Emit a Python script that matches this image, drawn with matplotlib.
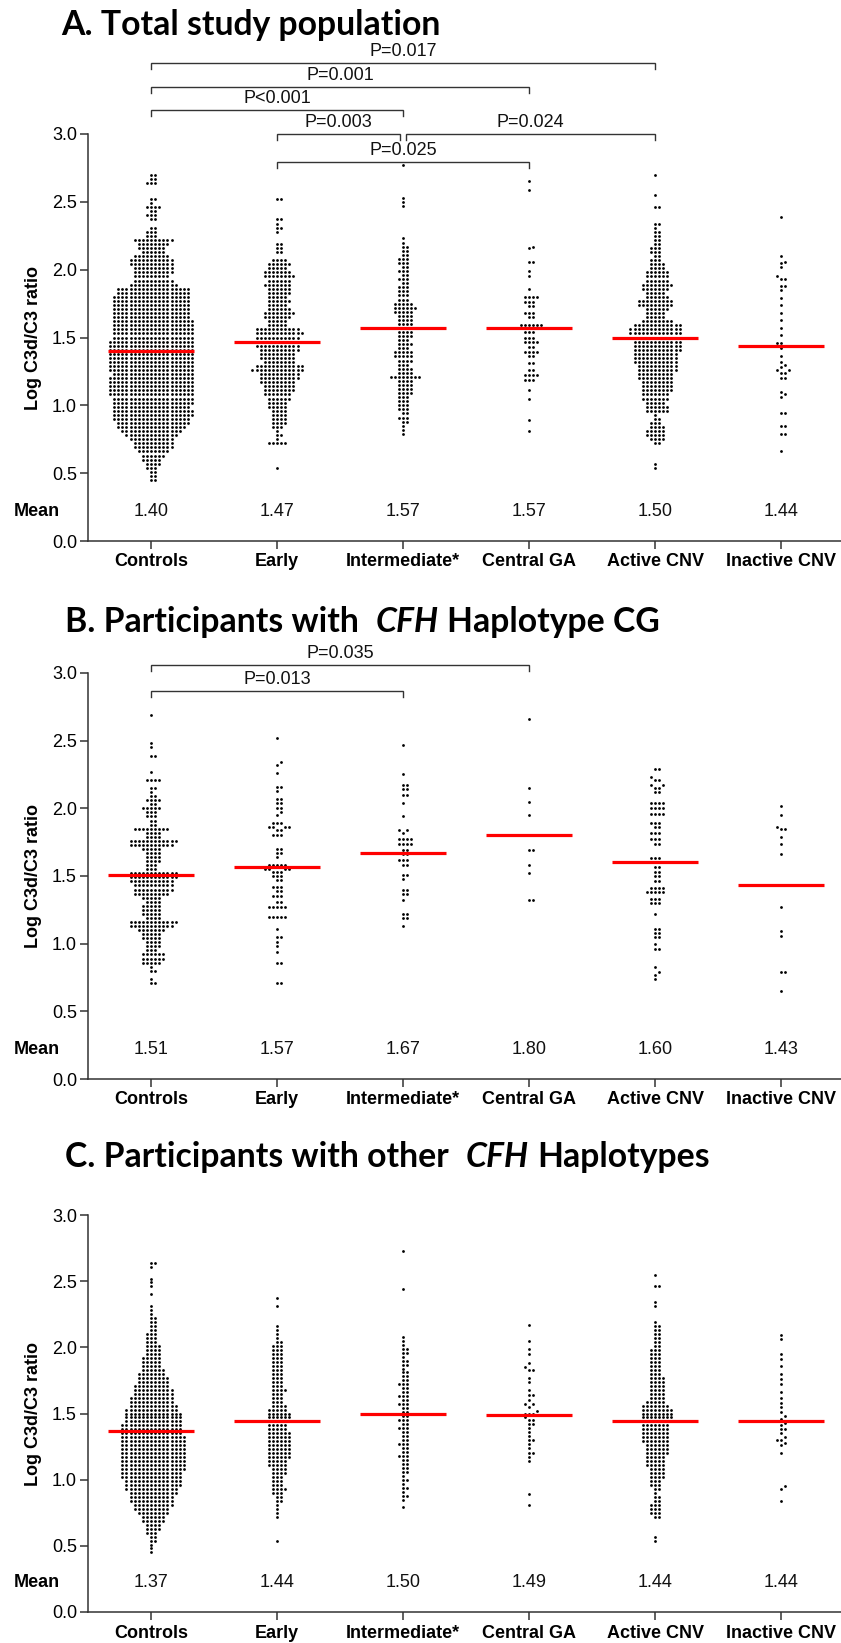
import numpy as np
import matplotlib
matplotlib.use("Agg")
import matplotlib.pyplot as plt

# ---------------------------------------------------------------- data
categories = ["Controls", "Early", "Intermediate*", "Central GA", "Active CNV", "Inactive CNV"]
means_A = [1.40, 1.47, 1.57, 1.57, 1.50, 1.44]
means_B = [1.51, 1.57, 1.67, 1.80, 1.60, 1.43]
means_C = [1.37, 1.44, 1.50, 1.49, 1.44, 1.44]

ROW_STEP = 0.03  # level spacing of the dot rows

# --- Panel A (row groups: lowest level + number of dots in each row)
A_controls_start = 0.45
A_controls_counts = [2, 2, 2, 3, 4, 5, 6, 8, 10, 10, 11, 13, 15, 17, 18, 19, 20, 20, 19, 20,
                     20, 21, 21, 21, 21, 21, 20, 21, 21, 21, 21, 21, 21, 21, 21, 20, 20, 20, 20, 20,
                     19, 19, 19, 19, 19, 19, 18, 18, 12, 10, 9, 10, 10, 11, 11, 9, 6, 7, 8, 10,
                     3, 3, 2, 0, 2, 3, 2, 4, 1, 2, 0, 0, 0, 3, 2, 2]
A_early_start = 0.54
A_early_counts = [1, 0, 0, 0, 0, 0, 5, 1, 2, 1, 3, 4, 4, 4, 4, 5, 5, 6, 7, 8,
                  8, 9, 10, 10, 13, 12, 8, 9, 9, 10, 11, 10, 11, 12, 11, 5, 5, 7, 8, 6,
                  5, 6, 5, 6, 6, 7, 6, 8, 7, 5, 6, 4, 0, 2, 2, 2, 0, 0, 1, 2,
                  1, 2, 0, 0, 0, 0, 2]
A_inter_start = 0.79
A_inter_counts = [1, 1, 1, 2, 3, 2, 3, 3, 3, 3, 4, 4, 4, 4, 8, 4, 4, 3, 4, 5,
                  5, 3, 4, 3, 4, 4, 3, 4, 4, 4, 5, 6, 5, 3, 3, 3, 3, 2, 3, 2,
                  3, 2, 3, 3, 2, 2, 2, 1, 1, 0, 0, 0, 0, 0, 0, 0, 1, 1, 1, 0,
                  0, 0, 0, 0, 0, 0, 1]
A_ga_values = [2.65, 2.59, 2.17, 2.16, 2.06, 1.99, 1.95, 1.86, 1.80, 1.76, 1.73, 1.68, 1.65,
               1.59, 1.54, 1.50, 1.47, 1.43, 1.39, 1.36, 1.31, 1.26, 1.22, 1.19, 1.11, 1.05,
               0.89, 0.81]
A_ga_counts = [1, 1, 1, 1, 2, 1, 1, 1, 4, 3, 2, 3, 2,
               6, 3, 3, 4, 2, 4, 2, 2, 2, 4, 3, 1, 1,
               1, 1]
A_active_start = 0.54
A_active_counts = [1, 1, 0, 0, 0, 0, 2, 4, 5, 5, 4, 3, 2, 1, 6, 6, 5, 7, 7, 8,
                   8, 8, 9, 9, 10, 10, 11, 11, 11, 12, 12, 12, 13, 13, 13, 12, 8, 5, 5, 6,
                   9, 9, 6, 5, 7, 8, 6, 6, 6, 4, 4, 3, 2, 3, 3, 2, 2, 2, 2, 1,
                   2, 0, 0, 0, 2, 0, 0, 1, 0, 0, 0, 0, 1]
A_inactive_values = [2.39, 2.10, 2.06, 2.05, 2.02, 1.95, 1.93, 1.88, 1.85, 1.79, 1.74, 1.68,
                     1.63, 1.57, 1.52, 1.46, 1.44, 1.42, 1.36, 1.32, 1.30, 1.28, 1.26, 1.24,
                     1.20, 1.10, 1.08, 1.06, 0.94, 0.85, 0.79, 0.66]
A_inactive_counts = [1, 1, 1, 1, 1, 1, 2, 2, 1, 1, 1, 1,
                     1, 1, 1, 2, 1, 1, 1, 1, 1, 1, 2, 2,
                     2, 1, 1, 1, 2, 2, 2, 1]

# --- Panel B
B_controls_start = 0.71
B_controls_counts = [2, 1, 0, 2, 1, 5, 6, 6, 3, 4, 4, 5, 5, 7, 11, 12, 4, 5, 5, 5,
                     4, 5, 9, 10, 10, 11, 12, 12, 3, 3, 4, 4, 4, 5, 11, 12, 4, 4, 9, 2,
                     2, 3, 3, 5, 2, 4, 2, 1, 2, 0, 4, 0, 1, 0, 0, 0, 2, 0, 1, 1,
                     0, 0, 0, 0, 0, 0, 1]
B_early_values = [2.52, 2.34, 2.32, 2.26, 2.16, 2.13, 2.07, 2.04, 2.00, 1.97, 1.95, 1.89,
                  1.86, 1.84, 1.80, 1.70, 1.67, 1.64, 1.58, 1.55, 1.53, 1.50, 1.47, 1.42,
                  1.39, 1.35, 1.31, 1.27, 1.20, 1.11, 1.05, 1.01, 0.98, 0.94, 0.86, 0.71]
B_early_counts = [1, 1, 1, 1, 2, 1, 2, 2, 2, 1, 1, 3,
                  4, 2, 3, 2, 2, 1, 5, 4, 3, 3, 2, 3,
                  2, 3, 2, 5, 5, 1, 2, 1, 1, 1, 2, 2]
B_inter_values = [2.47, 2.25, 2.17, 2.14, 2.10, 2.04, 1.94, 1.84, 1.82, 1.77, 1.74, 1.69,
                  1.66, 1.62, 1.58, 1.51, 1.48, 1.40, 1.37, 1.32, 1.22, 1.19, 1.13]
B_inter_counts = [1, 1, 2, 2, 2, 1, 1, 2, 1, 4, 4, 2,
                  2, 3, 2, 2, 1, 2, 2, 1, 2, 2, 1]
B_ga_values = [2.66, 2.15, 2.05, 1.95, 1.69, 1.58, 1.52, 1.32]
B_ga_counts = [1, 1, 1, 1, 2, 1, 1, 2]
B_active_values = [2.29, 2.23, 2.21, 2.17, 2.15, 2.12, 2.04, 2.00, 1.96, 1.89, 1.86, 1.82,
                   1.77, 1.74, 1.63, 1.60, 1.57, 1.53, 1.50, 1.46, 1.41, 1.38, 1.33, 1.30,
                   1.22, 1.11, 1.08, 1.05, 1.00, 0.96, 0.83, 0.79, 0.77, 0.74]
B_active_counts = [2, 1, 2, 2, 2, 2, 4, 4, 4, 3, 2, 3,
                   3, 2, 3, 3, 2, 2, 2, 2, 4, 5, 3, 3,
                   1, 2, 2, 2, 1, 2, 1, 1, 1, 1]
B_inactive_values = [2.02, 1.95, 1.86, 1.85, 1.79, 1.74, 1.66, 1.27, 1.09, 1.06, 0.79, 0.65]
B_inactive_counts = [1, 1, 1, 2, 1, 1, 1, 1, 1, 1, 2, 1]

# --- Panel C
C_controls_start = 0.45
C_controls_counts = [1, 1, 1, 2, 2, 3, 4, 4, 6, 6, 8, 9, 10, 11, 11, 12, 13, 14, 14, 15,
                     15, 16, 16, 16, 16, 16, 16, 16, 16, 16, 15, 15, 15, 14, 14, 14, 13, 12, 11, 11,
                     10, 10, 9, 8, 8, 7, 6, 5, 5, 5, 4, 4, 4, 3, 3, 3, 2, 2, 2, 2,
                     1, 1, 1, 0, 0, 1, 0, 1, 1, 1, 0, 0, 1, 2]
C_early_start = 0.54
C_early_counts = [1, 0, 0, 0, 0, 0, 1, 1, 1, 1, 2, 2, 3, 4, 3, 3, 3, 4, 4, 5,
                  5, 6, 6, 6, 6, 6, 6, 6, 5, 5, 5, 6, 6, 5, 4, 3, 3, 3, 4, 3,
                  3, 3, 3, 3, 3, 3, 3, 3, 3, 3, 2, 1, 1, 1, 1, 0, 0, 0, 0, 1,
                  0, 1]
C_inter_values = [0.79, 0.85, 0.88, 0.91, 0.94, 0.97, 1.00, 1.03, 1.06, 1.09, 1.12, 1.15,
                  1.18, 1.21, 1.24, 1.27, 1.30, 1.33, 1.36, 1.39, 1.42, 1.45, 1.48, 1.51,
                  1.54, 1.57, 1.60, 1.63, 1.66, 1.69, 1.72, 1.75, 1.78, 1.81, 1.84, 1.87,
                  1.90, 1.93, 1.96, 1.99, 2.02, 2.05, 2.08, 2.44, 2.73]
C_inter_counts = [1, 1, 2, 1, 2, 1, 2, 1, 2, 2, 2, 2,
                  3, 2, 2, 3, 2, 2, 2, 3, 2, 3, 2, 2,
                  2, 3, 2, 3, 2, 2, 3, 2, 2, 2, 1, 2,
                  2, 1, 2, 2, 1, 1, 1, 1, 1]
C_ga_values = [2.17, 2.05, 1.99, 1.95, 1.88, 1.85, 1.83, 1.77, 1.74, 1.68, 1.64, 1.60,
               1.57, 1.55, 1.52, 1.50, 1.47, 1.45, 1.42, 1.39, 1.36, 1.33, 1.30, 1.27,
               1.24, 1.20, 1.17, 1.14, 0.89, 0.81]
C_ga_counts = [1, 1, 1, 1, 1, 1, 2, 1, 1, 1, 2, 1,
               2, 1, 1, 3, 1, 2, 2, 1, 1, 1, 2, 1,
               1, 2, 1, 1, 1, 1]
C_active_start = 0.54
C_active_counts = [1, 1, 0, 0, 0, 0, 2, 3, 3, 3, 2, 2, 1, 2, 3, 3, 4, 4, 4, 5,
                   5, 5, 6, 6, 6, 7, 7, 7, 7, 7, 8, 8, 8, 8, 7, 5, 4, 4, 4, 4,
                   4, 4, 3, 3, 3, 3, 3, 3, 3, 2, 2, 2, 2, 2, 2, 1, 0, 0, 0, 1,
                   1, 0, 0, 0, 2, 0, 0, 1]
C_inactive_values = [2.09, 2.06, 1.95, 1.91, 1.86, 1.80, 1.76, 1.72, 1.66, 1.62, 1.58, 1.55,
                     1.51, 1.48, 1.46, 1.43, 1.41, 1.38, 1.35, 1.32, 1.30, 1.28, 1.26, 1.20,
                     0.95, 0.93, 0.84]
C_inactive_counts = [1, 1, 1, 1, 1, 1, 1, 1, 1, 1, 1, 1,
                     1, 1, 1, 1, 1, 2, 1, 1, 2, 1, 1, 1,
                     1, 1, 1]

# significance brackets: (group i, group j, label, bracket level)
brackets_A = [(0, 4, "P=0.017", 3.52), (0, 3, "P=0.001", 3.35), (0, 2, "P<0.001", 3.18),
              (1, 2, "P=0.003", 3.00), (2, 4, "P=0.024", 3.00), (1, 3, "P=0.025", 2.79)]
brackets_B = [(0, 3, "P=0.035", 3.06), (0, 2, "P=0.013", 2.87)]
brackets_C = []


def rows(start, counts):
    levels = np.round(start + ROW_STEP * np.arange(len(counts)), 2)
    return np.repeat(levels, counts)


def listed(values, counts):
    return np.repeat(np.asarray(values, float), counts)


groups_A = [rows(A_controls_start, A_controls_counts), rows(A_early_start, A_early_counts),
            rows(A_inter_start, A_inter_counts), listed(A_ga_values, A_ga_counts),
            rows(A_active_start, A_active_counts), listed(A_inactive_values, A_inactive_counts)]
groups_B = [rows(B_controls_start, B_controls_counts), listed(B_early_values, B_early_counts),
            listed(B_inter_values, B_inter_counts), listed(B_ga_values, B_ga_counts),
            listed(B_active_values, B_active_counts), listed(B_inactive_values, B_inactive_counts)]
groups_C = [rows(C_controls_start, C_controls_counts), rows(C_early_start, C_early_counts),
            listed(C_inter_values, C_inter_counts), listed(C_ga_values, C_ga_counts),
            rows(C_active_start, C_active_counts), listed(C_inactive_values, C_inactive_counts)]

# ---------------------------------------------------------------- layout
W, H = 841, 1643
DPI = 100
fig = plt.figure(figsize=(W / DPI, H / DPI), dpi=DPI)
fig.patch.set_facecolor("white")

SANS = ["Liberation Sans", "DejaVu Sans"]
TITLE_FONT = ["Lato", "DejaVu Sans"]
AX_LEFT, AX_RIGHT = 88, 841
panels = [  # (top px of 3.0, bottom px of 0.0)
    (134, 541), (673, 1079), (1215, 1612)]
XMIN, XMAX = -0.5, 5.476
STEP_PX = 4.1      # horizontal spacing of neighbouring dots
COLLIDE_PX = 3.7   # minimum centre distance between dots
GREY = "#333333"
FS = 13


def swarm(vals, ppx, ppy, step, dmin):
    order = np.argsort(vals, kind="stable")
    ys = vals[order] * ppy
    px_list, py_list = [], []
    xs = np.zeros(len(vals))
    for idx, y in zip(order, ys):
        nb = []
        for j in range(len(py_list) - 1, -1, -1):
            if y - py_list[j] >= dmin:
                break
            nb.append((px_list[j], py_list[j]))
        k = 0
        found = None
        while found is None:
            cands = [0.0] if k == 0 else [k * step, -k * step]
            for off in cands:
                if all((off - a) ** 2 + (y - b) ** 2 >= dmin * dmin for a, b in nb):
                    found = off
                    break
            k += 1
        px_list.append(found)
        py_list.append(y)
        xs[idx] = found / ppx
    return xs


def make_panel(top, bot, groups, means, brackets):
    ax = fig.add_axes([AX_LEFT / W, 1 - bot / H, (AX_RIGHT - AX_LEFT) / W, (bot - top) / H])
    ax.set_xlim(XMIN, XMAX)
    ax.set_ylim(0, 3)
    ppx = (AX_RIGHT - AX_LEFT) / (XMAX - XMIN)
    ppy = (bot - top) / 3.0
    for i, vals in enumerate(groups):
        xo = swarm(vals, ppx, ppy, STEP_PX, COLLIDE_PX)
        ax.scatter(i + xo, vals, s=4.0, c="black", linewidths=0, zorder=3)
        ax.plot([i - 0.345, i + 0.345], [means[i], means[i]], color="#ff0000",
                lw=2.3, zorder=4, solid_capstyle="butt")
        ax.text(i, 0.22, f"{means[i]:.2f}", ha="center", va="center", fontsize=FS,
                family=SANS, color="#111111")
    ax.text((37 - AX_LEFT) / (AX_RIGHT - AX_LEFT), 0.22, "Mean", transform=ax.get_yaxis_transform(),
            ha="center", va="center", fontsize=FS, fontweight="bold", family=SANS)
    ax.text((33 - AX_LEFT) / (AX_RIGHT - AX_LEFT), 0.5, "Log C3d/C3 ratio", transform=ax.transAxes,
            rotation=90, ha="center", va="center", fontsize=FS, fontweight="bold", family=SANS)
    tick_dy = 6 / ppy
    for (a, b, lab, lev) in brackets:
        xa, xb = a, b
        if lab == "P=0.003":
            xb = b - 0.025
        if lab == "P=0.024":
            xa = a + 0.025
        ax.plot([xa, xa, xb, xb], [lev - tick_dy, lev, lev, lev - tick_dy], color=GREY,
                lw=1.0, clip_on=False, solid_joinstyle="miter")
        ax.text((xa + xb) / 2, lev + 3 / ppy, lab, ha="center", va="bottom", fontsize=FS,
                family=SANS, color="#111111", clip_on=False)
    for s in ["top", "right"]:
        ax.spines[s].set_visible(False)
    for s in ["left", "bottom"]:
        ax.spines[s].set_color(GREY)
        ax.spines[s].set_linewidth(1.1)
    ax.set_xticks(range(len(categories)))
    ax.set_xticklabels(categories, fontsize=FS, fontweight="bold", family=SANS)
    ax.set_yticks(np.arange(0, 3.01, 0.5))
    ax.set_yticklabels([f"{v:.1f}" for v in np.arange(0, 3.01, 0.5)], fontsize=FS, family=SANS)
    ax.tick_params(axis="both", direction="out", length=6, width=1.1, color=GREY, pad=2)
    ax.tick_params(axis="x", pad=3)
    ax.set_facecolor("none")
    return ax


make_panel(*panels[0], groups_A, means_A, brackets_A)
make_panel(*panels[1], groups_B, means_B, brackets_B)
make_panel(*panels[2], groups_C, means_C, brackets_C)

# ---------------------------------------------------------------- titles
renderer = fig.canvas.get_renderer()


def rich_title(x_px, base_px, pieces, fs):
    x = x_px
    for txt, style, gap in pieces:
        x += gap * fs * DPI / 72.0
        t = fig.text(x / W, 1 - base_px / H, txt, fontsize=fs, fontweight="bold",
                     fontstyle=style, family=TITLE_FONT, ha="left", va="baseline")
        x += t.get_window_extent(renderer).width
    return x


probe = fig.text(0, 0, "A. Total study population", fontsize=20, fontweight="bold", family=TITLE_FONT)
w20 = probe.get_window_extent(renderer).width
probe.remove()
TFS = 20 * (440 - 61) / w20

rich_title(61, 35, [("A. Total study population", "normal", 0)], TFS)
rich_title(65, 632, [("B. Participants with", "normal", 0), ("CFH", "italic", 0.5),
                     ("Haplotype CG", "normal", 0.25)], TFS)
rich_title(65, 1167, [("C. Participants with other", "normal", 0), ("CFH", "italic", 0.5),
                      ("Haplotypes", "normal", 0.25)], TFS)

fig.savefig("out.png", dpi=DPI, facecolor="white")
